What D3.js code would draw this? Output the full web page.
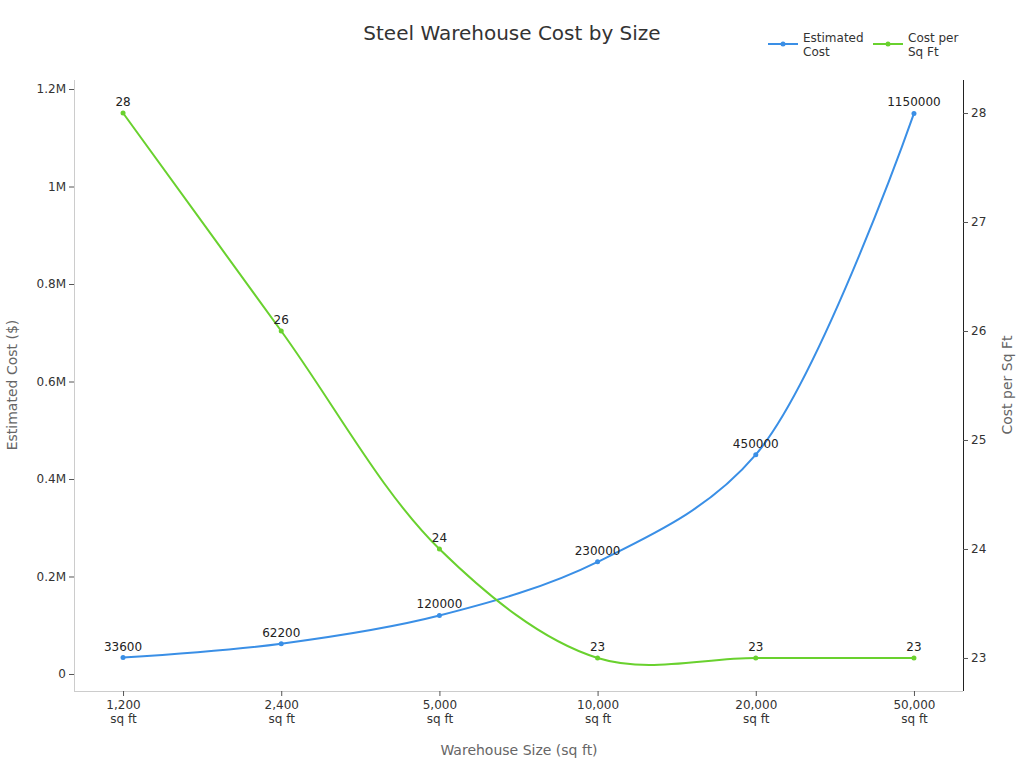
<!DOCTYPE html>
<html><head><meta charset="utf-8">
<script src="https://cdn.jsdelivr.net/npm/d3@7"></script>
<style>body{margin:0;background:#fff;} svg{display:block;font-family:"DejaVu Sans",sans-serif;}</style>
</head><body>
<svg id="c" width="1024" height="768"></svg>
<script>
const categories = ["1,200 sq ft","2,400 sq ft","5,000 sq ft","10,000 sq ft","20,000 sq ft","50,000 sq ft"];
const estimatedCost = [33600, 62200, 120000, 230000, 450000, 1150000];
const costPerSqFt = [28, 26, 24, 23, 23, 23];
const leftTicks = [0, 200000, 400000, 600000, 800000, 1000000, 1200000];
const rightTicks = [23, 24, 25, 26, 27, 28];
const seriesNames = ["Estimated Cost", "Cost per Sq Ft"];

const blue = "#3a8fe6", green = "#69d12e";
const svg = d3.select("#c");
const L = 74, R = 963, T = 80, B = 691;

const x = d3.scalePoint().domain(categories).range([L, R]).padding(0.31);
const yL = d3.scaleLinear().domain([-34872, 1218462]).range([B, T]);
const yR = d3.scaleLinear().domain([22.697, 28.303]).range([B, T]);

// title
svg.append("text").attr("x", 512).attr("y", 40).attr("text-anchor", "middle")
  .attr("font-size", 20).attr("fill", "#333").text("Steel Warehouse Cost by Size");

// left axis
const gL = svg.append("g").attr("transform", `translate(${L},0)`)
  .call(d3.axisLeft(yL).tickValues(leftTicks).tickSize(5).tickPadding(3)
    .tickFormat(v => v === 0 ? "0" : d3.format("~g")(v / 1e6) + "M"));
gL.select(".domain").attr("stroke", "#ccc").attr("d", `M0.5,${T}V${B}`);
gL.selectAll(".tick line").attr("stroke", "#555");
gL.selectAll(".tick text").attr("font-size", 12).attr("fill", "#333").attr("font-family", "DejaVu Sans");

// right axis
const gR = svg.append("g").attr("transform", `translate(${R},0)`)
  .call(d3.axisRight(yR).tickValues(rightTicks).tickSize(5).tickPadding(3).tickFormat(d3.format("d")));
gR.select(".domain").attr("stroke", "#222").attr("d", `M0.5,${T}V${B}`);
gR.selectAll(".tick line").attr("stroke", "#555");
gR.selectAll(".tick text").attr("font-size", 12).attr("fill", "#333").attr("font-family", "DejaVu Sans");

// bottom axis
const gB = svg.append("g").attr("transform", `translate(0,${B})`)
  .call(d3.axisBottom(x).tickSize(5).tickPadding(4));
gB.select(".domain").attr("stroke", "#ccc").attr("d", `M${L},0.5H${R}`);
gB.selectAll(".tick line").attr("stroke", "#555");
gB.selectAll(".tick text").attr("font-size", 12).attr("fill", "#333").attr("font-family", "DejaVu Sans")
  .each(function(d) {
    const t = d3.select(this); t.text(null);
    const parts = d.split(" ");
    const num = parts[0], unit = parts.slice(1).join(" ");
    t.append("tspan").attr("x", 0).attr("dy", "0.71em").text(num);
    t.append("tspan").attr("x", 0).attr("dy", "1.2em").text(unit);
  });

// axis titles
svg.append("text").attr("transform", `translate(17,385) rotate(-90)`).attr("text-anchor", "middle")
  .attr("font-size", 14).attr("fill", "#666").text("Estimated Cost ($)");
svg.append("text").attr("transform", `translate(1012,385) rotate(-90)`).attr("text-anchor", "middle")
  .attr("font-size", 14).attr("fill", "#666").text("Cost per Sq Ft");
svg.append("text").attr("x", 519).attr("y", 755).attr("text-anchor", "middle")
  .attr("font-size", 14).attr("fill", "#666").text("Warehouse Size (sq ft)");

function drawSeries(vals, yS, color) {
  const pts = vals.map((v, i) => [x(categories[i]), yS(v), v]);
  svg.append("path").attr("d", d3.line().curve(d3.curveCatmullRom.alpha(0.5))(pts.map(p => [p[0], p[1]])))
    .attr("fill", "none").attr("stroke", color).attr("stroke-width", 2);
  svg.selectAll(null).data(pts).enter().append("circle")
    .attr("cx", d => d[0]).attr("cy", d => d[1]).attr("r", 2.5).attr("fill", color);
  svg.selectAll(null).data(pts).enter().append("text")
    .attr("x", d => d[0]).attr("y", d => d[1] - 7).attr("text-anchor", "middle")
    .attr("font-size", 12).attr("fill", "#222").text(d => d[2]);
}
drawSeries(estimatedCost, yL, blue);
drawSeries(costPerSqFt, yR, green);

// legend
const leg = [{ name: seriesNames[0], c: blue, x: 768 }, { name: seriesNames[1], c: green, x: 873 }];
leg.forEach(l => {
  svg.append("line").attr("x1", l.x).attr("x2", l.x + 30).attr("y1", 44).attr("y2", 44)
    .attr("stroke", l.c).attr("stroke-width", 2);
  svg.append("circle").attr("cx", l.x + 15).attr("cy", 44).attr("r", 2.5).attr("fill", l.c);
  const words = l.name.split(" ");
  const line1 = words.length === 2 ? words[0] : words.slice(0, 2).join(" ");
  const line2 = words.length === 2 ? words[1] : words.slice(2).join(" ");
  const t = svg.append("text").attr("x", l.x + 35).attr("y", 42).attr("font-size", 12).attr("fill", "#333");
  t.append("tspan").attr("x", l.x + 35).attr("dy", 0).text(line1);
  t.append("tspan").attr("x", l.x + 35).attr("dy", 14).text(line2);
});
</script>
</body></html>
